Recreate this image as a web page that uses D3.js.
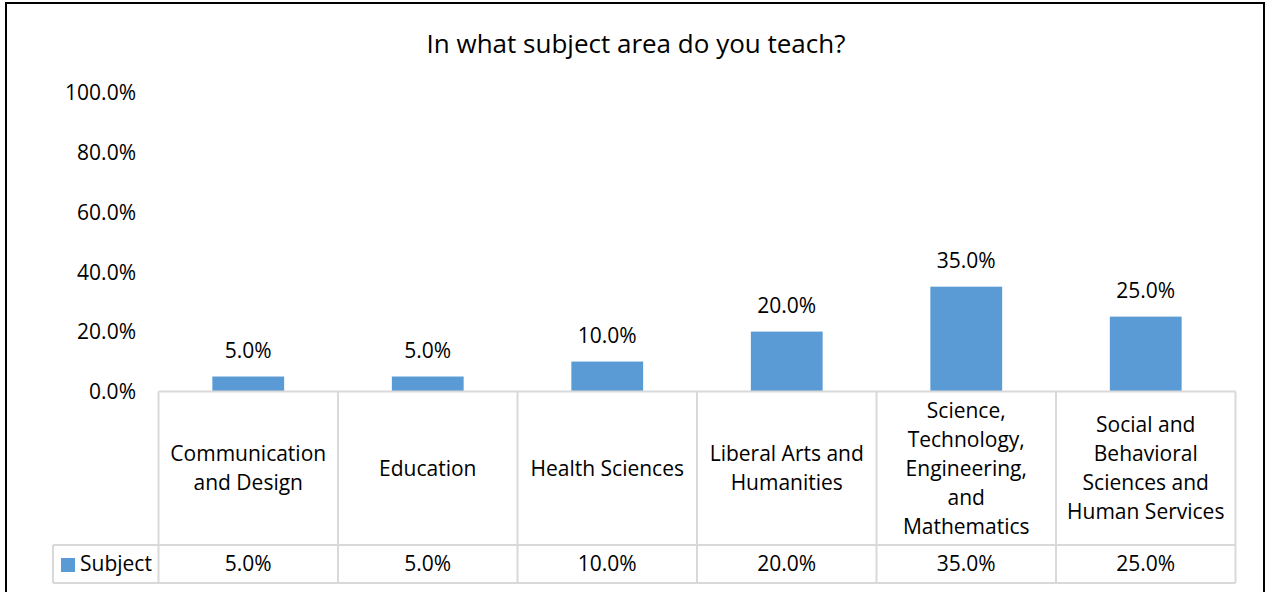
<!DOCTYPE html>
<html><head><meta charset="utf-8">
<script src="https://cdn.jsdelivr.net/npm/d3@7"></script>
<style>body{margin:0;background:#fff}svg{display:block}text{font-family:"Open Sans",sans-serif;fill:#000}</style>
</head><body>
<script>
const title = "In what subject area do you teach?";
const categories = ["Communication and Design","Education","Health Sciences","Liberal Arts and Humanities","Science, Technology, Engineering, and Mathematics","Social and Behavioral Sciences and Human Services"];
const categoryLines = [["Communication","and Design"],["Education"],["Health Sciences"],["Liberal Arts and","Humanities"],["Science,","Technology,","Engineering,","and","Mathematics"],["Social and","Behavioral","Sciences and","Human Services"]];
const seriesName = "Subject";
const values = [0.05,0.05,0.10,0.20,0.35,0.25];
const yTicks = [0,0.2,0.4,0.6,0.8,1.0];

const W=1266,H=592;
const svg=d3.select("body").append("svg").attr("width",W).attr("height",H);
const fmt=d3.format(".1%");
const color="#5b9bd5", grid="#d9d9d9";
const FS=21;

svg.append("rect").attr("x",6).attr("y",3).attr("width",1258).attr("height",H+10)
  .attr("fill","#fff").attr("stroke","#000").attr("stroke-width",2);

svg.append("text").attr("x",636).attr("y",44).attr("dy","0.35em").attr("text-anchor","middle")
  .attr("font-size",26).text(title);

const x=d3.scaleBand().domain(categories).range([158.5,1235.5]).paddingInner(0.6).paddingOuter(0.3);
const xc=d3.scaleBand().domain(categories).range([158.5,1235.5]);
const y=d3.scaleLinear().domain([0,1]).range([391.5,92]);

const ya=svg.append("g").attr("transform","translate(136,0)")
  .call(d3.axisLeft(y).tickValues(yTicks).tickFormat(fmt).tickSize(0).tickPadding(0));
ya.select(".domain").remove();
ya.selectAll("text").attr("font-size",FS).attr("font-family","'Open Sans',sans-serif").attr("fill","#000").attr("dy","0.35em");

svg.selectAll("rect.bar").data(values).join("rect").attr("class","bar")
  .attr("x",(d,i)=>x(categories[i])).attr("width",x.bandwidth())
  .attr("y",d=>y(d)).attr("height",d=>y(0)-y(d)).attr("fill",color);

svg.selectAll("text.dl").data(values).join("text").attr("class","dl")
  .attr("x",(d,i)=>x(categories[i])+x.bandwidth()/2).attr("y",d=>y(d)-26).attr("dy","0.35em")
  .attr("text-anchor","middle").attr("font-size",FS).text(d=>fmt(d));

const tTop=391.5, tMid=545, tBot=583, legL=53;
const g=svg.append("g").attr("stroke",grid).attr("stroke-width",2).attr("fill","none");
g.append("line").attr("x1",158.5).attr("x2",1235.5).attr("y1",tTop).attr("y2",tTop);
g.append("line").attr("x1",legL).attr("x2",1235.5).attr("y1",tMid).attr("y2",tMid);
g.append("line").attr("x1",legL).attr("x2",1235.5).attr("y1",tBot).attr("y2",tBot);
g.append("line").attr("x1",legL).attr("x2",legL).attr("y1",tMid).attr("y2",tBot);
const edges=categories.map(c=>xc(c)).concat([1235.5]);
g.selectAll("line.v").data(edges).join("line").attr("class","v")
  .attr("x1",d=>d).attr("x2",d=>d).attr("y1",tTop).attr("y2",tBot);

const lh=29;
categoryLines.forEach((lines,i)=>{
  const cx=xc(categories[i])+xc.bandwidth()/2;
  const cy=(tTop+tMid)/2;
  const t=svg.append("text").attr("text-anchor","middle").attr("font-size",FS);
  lines.forEach((l,j)=>{
    t.append("tspan").attr("x",cx).attr("y",cy+(j-(lines.length-1)/2)*lh).attr("dy","0.35em").text(l);
  });
});

svg.selectAll("text.tv").data(values).join("text").attr("class","tv")
  .attr("x",(d,i)=>xc(categories[i])+xc.bandwidth()/2).attr("y",(tMid+tBot)/2).attr("dy","0.35em")
  .attr("text-anchor","middle").attr("font-size",FS).text(d=>fmt(d));

svg.append("rect").attr("x",61).attr("y",558).attr("width",14).attr("height",14).attr("fill",color);
svg.append("text").attr("x",80).attr("y",(tMid+tBot)/2).attr("dy","0.35em").attr("font-size",FS).text(seriesName);
</script>
</body></html>
